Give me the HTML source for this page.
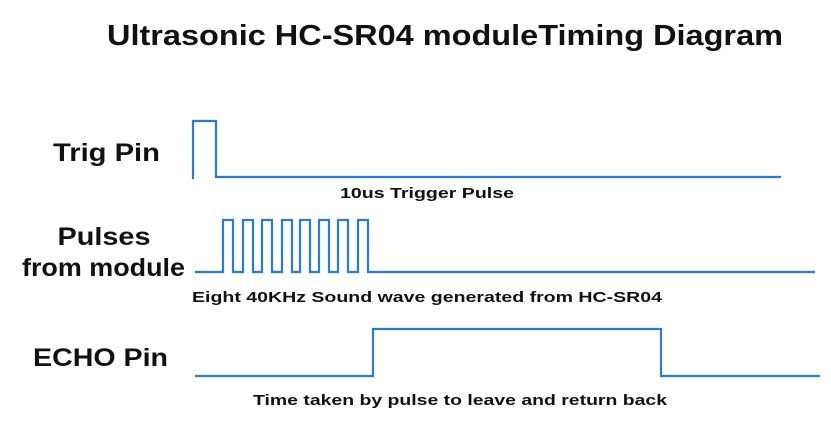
<!DOCTYPE html>
<html><head><meta charset="utf-8"><style>
html,body{margin:0;padding:0;background:#fff}
svg{display:block;font-family:"Liberation Sans",Arial,sans-serif;font-weight:bold}
</style></head><body>
<svg id="chart" width="831" height="425" viewBox="0 0 831 425">
<text x="445" y="45" text-anchor="middle" font-size="29" textLength="676" lengthAdjust="spacingAndGlyphs" fill="#111">Ultrasonic HC-SR04 moduleTiming Diagram</text>
<text x="53" y="161" font-size="25" textLength="107" lengthAdjust="spacingAndGlyphs" fill="#111">Trig Pin</text>
<text x="104" y="245" text-anchor="middle" font-size="25" textLength="93" lengthAdjust="spacingAndGlyphs" fill="#111">Pulses</text>
<text x="22" y="276" font-size="25" textLength="163" lengthAdjust="spacingAndGlyphs" fill="#111">from module</text>
<text x="33" y="366" font-size="25" textLength="135" lengthAdjust="spacingAndGlyphs" fill="#111">ECHO Pin</text>
<text x="340" y="198" font-size="15" textLength="174" lengthAdjust="spacingAndGlyphs" fill="#111">10us Trigger Pulse</text>
<text x="192" y="302" font-size="15" textLength="470" lengthAdjust="spacingAndGlyphs" fill="#111">Eight 40KHz Sound wave generated from HC-SR04</text>
<text x="253" y="405" font-size="15" textLength="414" lengthAdjust="spacingAndGlyphs" fill="#111">Time taken by pulse to leave and return back</text>
<g id="waves"></g>
</svg>
<script>
// signal timing data (x positions along time axis, in px-time units)
const trigStart = 193, trigEnd = 781;
const trigPulse = [193, 216];
const burstStart = 195, burstEnd = 815;
const burstRises = [223, 243, 262, 282, 300, 319, 338, 358];
const burstWidth = 10;
const echoStart = 195, echoEnd = 820;
const echoPulse = [373, 661];

const t = v => v;
const g = document.getElementById('waves');
function wave(name, lo, hi, start, end, pulses, loStart) {
  let d = `M${t(start)},${loStart !== undefined ? loStart : lo}`;
  for (const [a, b] of pulses) {
    d += ` L${t(a)},${lo} L${t(a)},${hi} L${t(b)},${hi} L${t(b)},${lo}`;
  }
  d += ` L${t(end)},${lo}`;
  const p = document.createElementNS('http://www.w3.org/2000/svg', 'path');
  p.setAttribute('d', d);
  p.setAttribute('fill', 'none');
  p.setAttribute('stroke', '#2b7bd3');
  p.setAttribute('stroke-width', '2.2');
  
  
  g.appendChild(p);
}
wave('trig-signal', 177, 121, trigStart, trigEnd, [trigPulse], 179);
wave('pulse-burst-signal', 272, 220, burstStart, burstEnd, burstRises.map(r => [r, r + burstWidth]));
wave('echo-signal', 376, 329, echoStart, echoEnd, [echoPulse]);
</script>
</body></html>
